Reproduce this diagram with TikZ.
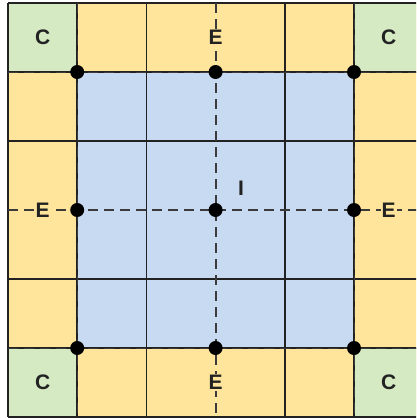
\documentclass[tikz,border=0pt]{standalone}
\usepackage{fontspec}
\setmainfont{Liberation Sans}
\definecolor{cellY}{HTML}{FFE59B}
\definecolor{cellG}{HTML}{D5EAC2}
\definecolor{cellB}{HTML}{C8DAF2}
\definecolor{gridC}{HTML}{222222}
\definecolor{dashC}{HTML}{3A3A3A}
\tikzset{
  gridline/.style={draw=gridC, line width=1.8pt},
  dashline/.style={draw=dashC, line width=2pt, dash pattern=on 10pt off 6pt},
  dotnode/.style={circle, fill=black, inner sep=0pt, minimum size=14pt},
  lbl/.style={font=\fontsize{21}{24}\selectfont\bfseries, text=gridC, inner sep=0pt}
}
\begin{document}
\begin{tikzpicture}[x=1pt,y=-1pt]
\useasboundingbox (0,0) rectangle (416,418);
\clip (0,0) rectangle (416,418);
% fills
\fill[cellY] (8,3) rectangle (423.2,417);
\fill[cellG] (8,3) rectangle (77.2,72);
\fill[cellG] (354,3) rectangle (423.2,72);
\fill[cellG] (8,348) rectangle (77.2,417);
\fill[cellG] (354,348) rectangle (423.2,417);
\fill[cellB] (77.2,72) rectangle (354,348);
% solid grid lines
\foreach \x in {8,77.2,146.4,284.8,354,423.2} \draw[gridline] (\x,3) -- (\x,417);
\foreach \y in {3,72,141,279,348,417} \draw[gridline] (8,\y) -- (423.2,\y);
% coordinates for dashed lines
\coordinate (vt) at (215.6,3);
\coordinate (vb) at (215.6,417);
\coordinate (hl) at (8,210);
\coordinate (hr) at (423.2,210);
\coordinate (lt) at (77.2,3);
\coordinate (lb) at (77.2,417);
\coordinate (rt) at (354,3);
\coordinate (rb) at (354,417);
\coordinate (tl) at (8,72);
\coordinate (tr) at (423.2,72);
\coordinate (bl) at (8,348);
\coordinate (br) at (423.2,348);
\draw[dashline] (vt) -- (vb);
\draw[dashline] (hl) -- (hr);
\draw[dashline, line width=1pt] (lt) -- (lb);
\draw[dashline, line width=1pt] (rt) -- (rb);
\draw[dashline, line width=1pt] (tl) -- (tr);
\draw[dashline, line width=1pt] (bl) -- (br);
% dots
\node[dotnode] (d11) at (77.2,72) {};
\node[dotnode] (d12) at (215.6,72) {};
\node[dotnode] (d13) at (354,72) {};
\node[dotnode] (d21) at (77.2,210) {};
\node[dotnode] (d22) at (215.6,210) {};
\node[dotnode] (d23) at (354,210) {};
\node[dotnode] (d31) at (77.2,348) {};
\node[dotnode] (d32) at (215.6,348) {};
\node[dotnode] (d33) at (354,348) {};
% labels
\node[lbl] (ctl) at (42.6,37.5) {C};
\node[lbl] (ctr) at (388.6,37.5) {C};
\node[lbl] (cbl) at (42.6,382.5) {C};
\node[lbl] (cbr) at (388.6,382.5) {C};
\node[lbl, fill=cellY, inner ysep=1pt] (et) at (215.6,37.5) {E};
\node[lbl, fill=cellY, inner ysep=1pt] (eb) at (215.6,382.5) {E};
\node[lbl, fill=cellY, inner xsep=1pt] (el) at (42.6,210) {E};
\node[lbl, fill=cellY, inner xsep=1pt] (er) at (388.6,210) {E};
\node[lbl] (ii) at (241,188) {I};
\end{tikzpicture}
\end{document}
